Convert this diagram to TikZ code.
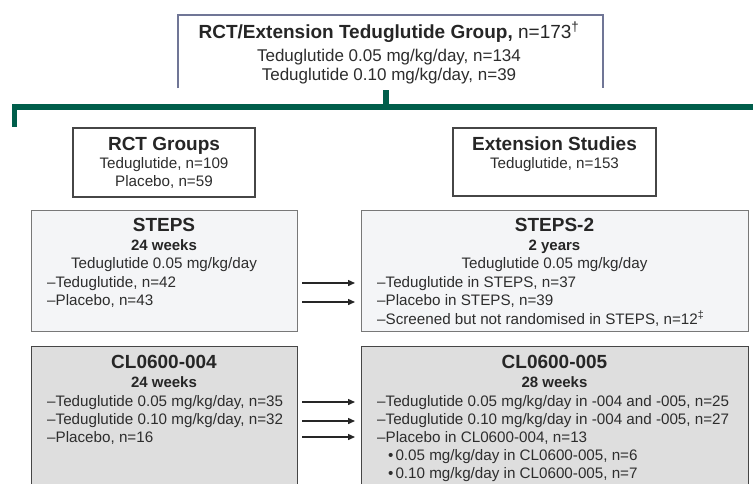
\documentclass[tikz,border=0pt]{standalone}
\usepackage{fontspec}
\setmainfont{Liberation Sans}
\usetikzlibrary{arrows.meta}
\definecolor{tgreen}{RGB}{0,94,75}
\definecolor{topborder}{RGB}{112,118,150}
\definecolor{txtgray}{RGB}{45,45,45}
\definecolor{lightfill}{RGB}{244,245,247}
\definecolor{darkfill}{RGB}{222,222,222}
\definecolor{midborder}{RGB}{120,120,120}
\definecolor{darkborder}{RGB}{70,70,70}
\begin{document}
\begin{tikzpicture}[x=1pt,y=-1pt,
  boxshape/.style={rectangle, inner sep=0, outer sep=0, anchor=north west},
  headbox/.style={boxshape, draw=darkborder, line width=1.1pt, fill=white},
  lightbox/.style={boxshape, draw=midborder, line width=1pt, fill=lightfill},
  darkbox/.style={boxshape, draw=darkborder, line width=1pt, fill=darkfill},
  txt/.style={inner sep=0, anchor=base, text=txtgray, font=\fontsize{15.2}{18}\selectfont},
  ltxt/.style={txt, anchor=base west},
  head/.style={inner sep=0, anchor=base, text=black!85, font=\fontsize{19}{22}\selectfont\bfseries},
  subhead/.style={inner sep=0, anchor=base, text=black!85, font=\fontsize{15}{18}\selectfont\bfseries},
  toptxt/.style={txt, font=\fontsize{17}{20}\selectfont},
  bus/.style={draw=tgreen, line width=6.8pt},
  busv/.style={draw=tgreen, line width=5.3pt},
  flow/.style={draw=black!85, line width=1.4pt, -{Triangle[length=7pt,width=6pt]}}
]
\clip (0,0) rectangle (753,483);
\fill[white] (0,0) rectangle (753,483);

% top box (open at the bottom)
\node[boxshape, minimum width=425pt, minimum height=73pt] (top) at (178,15) {};
\draw[topborder, line width=1.3pt] (top.south west) -- (top.north west) -- (top.north east) -- (top.south east);
\node[head, font=\fontsize{19}{22}\selectfont] (t1) at (389,38) {\textbf{RCT/Extension Teduglutide Group,} n=173\textsuperscript{†}};
\node[toptxt] (t2) at (389,61) {Teduglutide 0.05 mg/kg/day, n=134};
\node[toptxt] (t3) at (389,80) {Teduglutide 0.10 mg/kg/day, n=39};

% green connector
\coordinate (stubtop) at (386,90);
\coordinate (junction) at (386,107);
\coordinate (busleft) at (12,107);
\coordinate (busright) at (760,107);
\coordinate (legtop) at (14.7,104);
\coordinate (legend) at (14.7,127);
\draw[busv] (stubtop) -- (junction);
\draw[bus] (busleft) -- (busright);
\draw[busv] (legtop) -- (legend);

% RCT groups
\node[headbox, minimum width=182pt, minimum height=69pt] (rct) at (73,128) {};
\node[head] (rct1) at (164,150) {RCT Groups};
\node[txt] (rct2) at (164,168) {Teduglutide, n=109};
\node[txt] (rct3) at (164,186) {Placebo, n=59};

% Extension studies
\node[headbox, minimum width=203pt, minimum height=68pt] (ext) at (453,128) {};
\node[head] (ext1) at (554.5,150) {Extension Studies};
\node[txt] (ext2) at (554.5,168) {Teduglutide, n=153};

% STEPS
\node[lightbox, minimum width=266pt, minimum height=121pt] (steps) at (31,210) {};
\node[head] (s1) at (164,231) {STEPS};
\node[subhead] (s2) at (164,250) {24 weeks};
\node[txt] (s3) at (164,268) {Teduglutide 0.05 mg/kg/day};
\node[ltxt] (s4) at (47,287) {–Teduglutide, n=42};
\node[ltxt] (s5) at (47,305) {–Placebo, n=43};

% STEPS-2
\node[lightbox, minimum width=387pt, minimum height=121pt] (steps2) at (361,210) {};
\node[head] (r1) at (554.5,231) {STEPS-2};
\node[subhead] (r2) at (554.5,250) {2 years};
\node[txt] (r3) at (554.5,268) {Teduglutide 0.05 mg/kg/day};
\node[ltxt] (r4) at (377,287) {–Teduglutide in STEPS, n=37};
\node[ltxt] (r5) at (377,305) {–Placebo in STEPS, n=39};
\node[ltxt] (r6) at (377,324) {–Screened but not randomised in STEPS, n=12\textsuperscript{‡}};

% CL0600-004
\node[darkbox, minimum width=266pt, minimum height=160pt] (cla) at (31,346) {};
\node[head] (c1) at (164,368) {CL0600-004};
\node[subhead] (c2) at (164,387) {24 weeks};
\node[ltxt] (c3) at (47,406) {–Teduglutide 0.05 mg/kg/day, n=35};
\node[ltxt] (c4) at (47,424) {–Teduglutide 0.10 mg/kg/day, n=32};
\node[ltxt] (c5) at (47,442) {–Placebo, n=16};

% CL0600-005
\node[darkbox, minimum width=387pt, minimum height=160pt] (clb) at (361,346) {};
\node[head] (d1) at (554.5,368) {CL0600-005};
\node[subhead] (d2) at (554.5,387) {28 weeks};
\node[ltxt] (d3) at (377,406) {–Teduglutide 0.05 mg/kg/day in -004 and -005, n=25};
\node[ltxt] (d4) at (377,424) {–Teduglutide 0.10 mg/kg/day in -004 and -005, n=27};
\node[ltxt] (d5) at (377,442) {–Placebo in CL0600-004, n=13};
\node[ltxt] (d6) at (388,460) {•\hspace{2pt}0.05 mg/kg/day in CL0600-005, n=6};
\node[ltxt] (d7) at (388,478) {•\hspace{2pt}0.10 mg/kg/day in CL0600-005, n=7};

% arrows
\coordinate (a1s) at (302,283); \coordinate (a1e) at (355,283);
\coordinate (a2s) at (302,302); \coordinate (a2e) at (355,302);
\coordinate (a3s) at (302,402); \coordinate (a3e) at (355,402);
\coordinate (a4s) at (302,421); \coordinate (a4e) at (355,421);
\coordinate (a5s) at (302,437); \coordinate (a5e) at (355,437);
\draw[flow] (a1s) -- (a1e);
\draw[flow] (a2s) -- (a2e);
\draw[flow] (a3s) -- (a3e);
\draw[flow] (a4s) -- (a4e);
\draw[flow] (a5s) -- (a5e);
\end{tikzpicture}
\end{document}
